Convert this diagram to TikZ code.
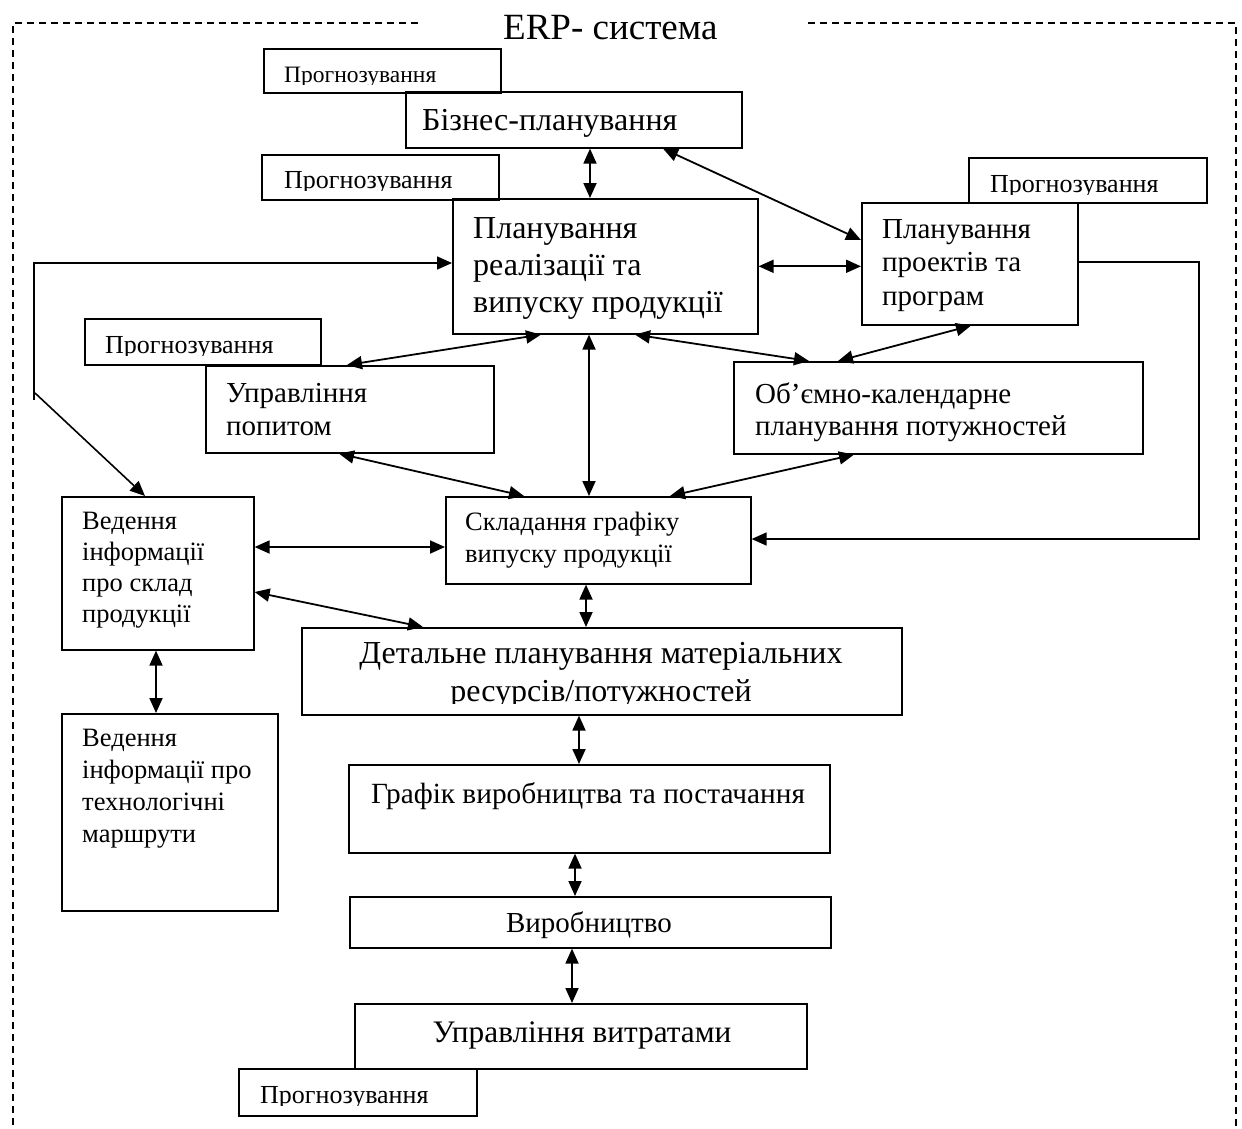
\documentclass[tikz,border=0pt]{standalone}
\usepackage{fontspec}
\setmainfont{Liberation Serif}
\usetikzlibrary{arrows.meta}

\tikzset{
  box/.style={draw, line width=1.6pt, inner sep=0pt, anchor=north west},
  txt/.style={inner sep=0pt, anchor=base west, align=left},
  ctxt/.style={inner sep=0pt, anchor=base, align=center},
  link/.style={line width=1.8pt, {Triangle[length=15pt,width=13pt]}-{Triangle[length=15pt,width=13pt]}},
  loopline/.style={line width=1.6pt, -{Triangle[length=15pt,width=13pt]}},
  frame/.style={line width=1.2pt, dash pattern=on 7pt off 5pt},
}
\newcommand{\fs}[2]{\fontsize{#1}{#2}\selectfont}

\begin{document}
\begin{tikzpicture}[x=1pt, y=-1pt]
  \useasboundingbox (0,0) rectangle (1242,1128);

  % dashed frame of the system
  \draw[frame] (418,23) -- (13,23) -- (13,1140);
  \draw[frame] (808,23) -- (1236,23) -- (1236,1140);
  \node[txt, font=\fs{37}{40}] (title) at (503,39) {ERP- система};

  % boxes
  \node[box, minimum width=237pt, minimum height=44pt] (fcA) at (263,48) {};
  \node[box, minimum width=336pt, minimum height=56pt] (biz) at (405,91) {};
  \node[box, minimum width=237pt, minimum height=45pt] (fcB) at (261,154) {};
  \node[box, minimum width=305pt, minimum height=135pt] (plan) at (452,198) {};
  \node[box, minimum width=238pt, minimum height=45pt] (fcC) at (968,157) {};
  \node[box, minimum width=216pt, minimum height=122pt] (proj) at (861,202) {};
  \node[box, minimum width=236pt, minimum height=46pt] (fcD) at (84,318) {};
  \node[box, minimum width=288pt, minimum height=87pt] (dem) at (205,365) {};
  \node[box, minimum width=409pt, minimum height=92pt] (vol) at (733,361) {};
  \node[box, minimum width=192pt, minimum height=153pt] (bom) at (61,496) {};
  \node[box, minimum width=305pt, minimum height=87pt] (mps) at (445,496) {};
  \node[box, minimum width=600pt, minimum height=87pt] (mrp) at (301,627) {};
  \node[box, minimum width=216pt, minimum height=197pt] (rout) at (61,713) {};
  \node[box, minimum width=481pt, minimum height=88pt] (sched) at (348,764) {};
  \node[box, minimum width=481pt, minimum height=51pt] (prod) at (349,896) {};
  \node[box, minimum width=452pt, minimum height=65pt] (cost) at (354,1003) {};
  \node[box, minimum width=238pt, minimum height=47pt] (fcE) at (238,1068) {};

  % texts (multi-line ones sit on their last baseline)
  \node[txt, font=\fs{32}{37}] (bizT) at (422,130) {Бізнес-планування};
  \node[txt, font=\fs{32}{37}] (planT) at (473,312) {Планування\\реалізації та\\випуску продукції};
  \node[txt, font=\fs{29}{33.5}] (projT) at (882,305) {Планування\\проектів та\\програм};
  \node[txt, font=\fs{29}{33}] (demT) at (226,435) {Управління\\попитом};
  \node[txt, font=\fs{29}{32}] (volT) at (755,435) {Об’ємно-календарне\\планування потужностей};
  \node[txt, font=\fs{26.5}{30.7}] (bomT) at (82,622) {Ведення\\інформації\\про склад\\продукції};
  \node[txt, font=\fs{26.5}{32}] (mpsT) at (465,562) {Складання графіку\\випуску продукції};
  \node[txt, font=\fs{26.5}{31.7}] (routT) at (82,842) {Ведення\\інформації про\\технологічні\\маршрути};
  \begin{scope}
    \clip (301,627) rectangle (901,703);
    \node[ctxt, font=\fs{32}{38}] (mrpT) at (601,701) {Детальне планування матеріальних\\ресурсів/потужностей};
  \end{scope}
  \node[ctxt, font=\fs{29.3}{33}] (schedT) at (588,803) {Графік виробництва та постачання};
  \node[ctxt, font=\fs{29}{33}] (prodT) at (589,932) {Виробництво};
  \node[ctxt, font=\fs{31.3}{35}] (costT) at (582,1042) {Управління витратами};

  % forecasting labels, cut at the baseline
  \begin{scope}
    \clip (263,48) rectangle (500,84);
    \node[txt, font=\fs{23.5}{26}] (fcAT) at (284,82) {Прогнозування};
  \end{scope}
  \begin{scope}
    \clip (261,154) rectangle (498,190);
    \node[txt, font=\fs{26}{30}] (fcBT) at (284,188) {Прогнозування};
  \end{scope}
  \begin{scope}
    \clip (968,157) rectangle (1206,194);
    \node[txt, font=\fs{26}{30}] (fcCT) at (990,192) {Прогнозування};
  \end{scope}
  \begin{scope}
    \clip (84,318) rectangle (320,355);
    \node[txt, font=\fs{26}{30}] (fcDT) at (105,353) {Прогнозування};
  \end{scope}
  \begin{scope}
    \clip (238,1068) rectangle (476,1105);
    \node[txt, font=\fs{26}{30}] (fcET) at (260,1103) {Прогнозування};
  \end{scope}

  % links between the boxes
  \draw[link] ([xshift=185pt]biz.south west) -- ([xshift=138pt]plan.north west);
  \draw[link] ([xshift=258pt]biz.south west) -- ([yshift=-38pt]proj.north west);
  \draw[link] (plan.east) -- (plan.east -| proj.west);
  \draw[link] ([xshift=89pt]plan.south west) -- ([xshift=142pt]dem.north west);
  \draw[link] ([xshift=137pt]plan.south west) -- ([xshift=144pt]mps.north west);
  \draw[link] ([xshift=183pt]plan.south west) -- ([xshift=76pt]vol.north west);
  \draw[link] ([xshift=110pt]proj.south west) -- ([xshift=105pt]vol.north west);
  \draw[link] ([xshift=134pt]dem.south west) -- ([xshift=79pt]mps.north west);
  \draw[link] ([xshift=121pt]vol.south west) -- ([xshift=225pt]mps.north west);
  \draw[link] ([yshift=-51pt]bom.north east) -- ([yshift=-51pt]bom.north east -| mps.west);
  \draw[link] ([yshift=-96pt]bom.north east) -- ([xshift=122pt]mrp.north west);
  \draw[link] ([xshift=141pt]mps.south west) -- ([xshift=285pt]mrp.north west);
  \draw[link] ([xshift=95pt]bom.south west) -- ([xshift=95pt]rout.north west);
  \draw[link] ([xshift=278pt]mrp.south west) -- ([xshift=231pt]sched.north west);
  \draw[link] ([xshift=227pt]sched.south west) -- ([xshift=226pt]prod.north west);
  \draw[link] ([xshift=223pt]prod.south west) -- ([xshift=218pt]cost.north west);

  % feedback loops
  \coordinate (lpT) at (34,263);
  \coordinate (lpB) at (34,400);
  \coordinate (lpD) at (35,393);
  \draw[loopline] (lpB) -- (lpT) -- (lpT -| plan.west);
  \draw[loopline] (lpD) -- ([xshift=84pt]bom.north west);
  \coordinate (rpT) at (1199,262);
  \coordinate (rpB) at (1199,539);
  \draw[loopline] (rpT -| proj.east) -- (rpT) -- (rpB) -- (rpB -| mps.east);
\end{tikzpicture}
\end{document}
